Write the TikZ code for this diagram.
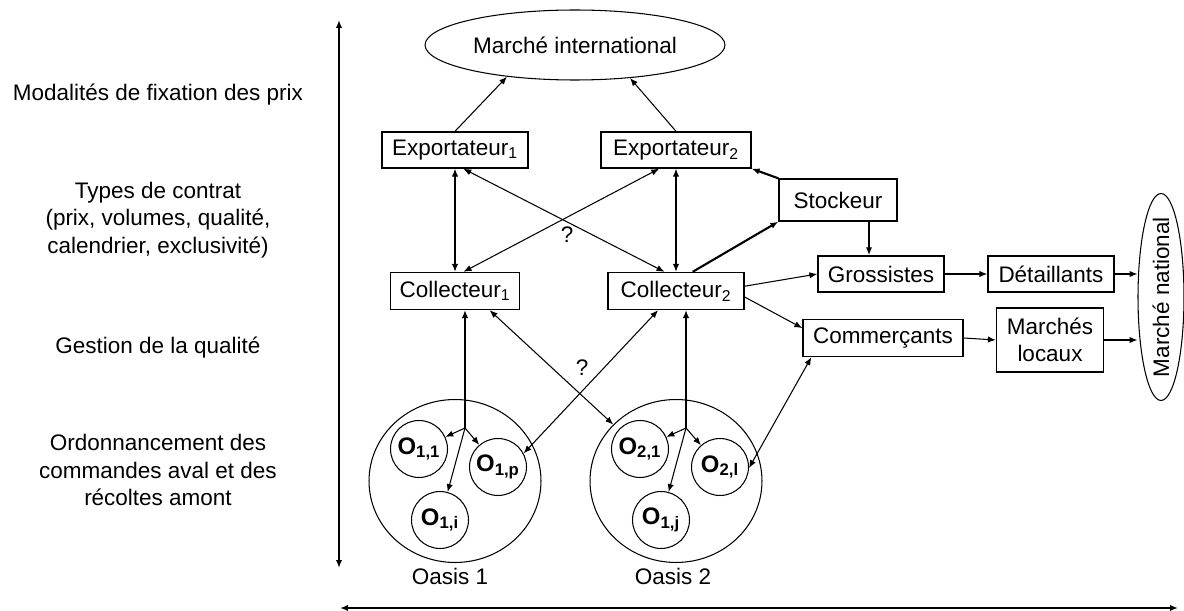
\documentclass[tikz,border=0pt]{standalone}
\usepackage{fontspec}
\setmainfont{Liberation Sans}
\usetikzlibrary{shapes.geometric, arrows.meta}

\tikzset{
  every node/.style={font=\fontsize{12.8}{15.5}\selectfont},
  actor/.style={draw, line width=0.8pt, minimum height=0.72cm, inner sep=2pt},
  market/.style={draw, ellipse, line width=0.6pt, inner sep=0pt},
  oasis/.style={draw, ellipse, line width=0.6pt, minimum width=3.44cm, minimum height=3.26cm},
  farm/.style={draw, circle, line width=0.6pt, minimum size=1.14cm, inner sep=0pt,
    font=\fontsize{13.6}{15}\selectfont\bfseries},
  level/.style={align=center, font=\fontsize{12.8}{15.8}\selectfont},
  flow/.style={->, line width=0.6pt},
  link/.style={<->, line width=0.6pt},
  bigflow/.style={->, line width=1.2pt},
  axis/.style={<->, line width=1.1pt},
}

\begin{document}
\begin{tikzpicture}[x=0.02cm, y=-0.02cm, >={Latex[length=4.5pt,width=3.6pt]}]
    \useasboundingbox (0,0) rectangle (1184,611);
    \node[level] (lvprix) at (158,95) {Modalités de fixation des prix};
    \node[level] (lvcontrat) at (158,220) {Types de contrat\\(prix, volumes, qualité,\\calendrier, exclusivité)};
    \node[level] (lvqual) at (158,348) {Gestion de la qualité};
    \node[level] (lvordo) at (158,470) {Ordonnancement des\\commandes aval et des\\récoltes amont};
    \draw[axis] (339,568) -- (339,20);
    \draw[axis] (340,608) -- (1178,608);

    \node[market, minimum width=6cm, minimum height=1.4cm] (intl) at (575,45) {Marché international};
    \node[actor, minimum width=2.92cm] (exp1) at (455,150) {Exportateur\textsubscript{1}};
    \node[actor, minimum width=3.0cm] (exp2) at (676,150) {Exportateur\textsubscript{2}};
    \node[actor, minimum width=2.36cm, minimum height=0.84cm] (stock) at (838,200) {Stockeur};
    \node[actor, minimum width=2.58cm, minimum height=0.74cm] (col1) at (455,291) {Collecteur\textsubscript{1}};
    \node[actor, minimum width=2.72cm, minimum height=0.74cm] (col2) at (676,291) {Collecteur\textsubscript{2}};
    \node[actor, minimum width=2.52cm] (gross) at (881,274) {Grossistes};
    \node[actor, minimum width=2.52cm] (det) at (1051,274) {Détaillants};
    \node[actor, minimum width=3.2cm, minimum height=0.74cm] (comm) at (883,338) {Commerçants};
    \node[actor, minimum width=2.14cm, minimum height=1.28cm, align=center] (loc) at (1050,340) {Marchés\\locaux};
    \node[market, minimum width=0.92cm, minimum height=4.14cm] (natl) at (1161,297) {};
    \node[rotate=90] (natllbl) at (natl.center) {Marché national};

    \node[oasis] (oasis1) at (455,481) {};
    \node[oasis] (oasis2) at (676,481) {};
    \node (oasis1lbl) at (450,576) {Oasis 1};
    \node (oasis2lbl) at (673,576) {Oasis 2};
    \node[farm] (o11) at (419,449) {O\textsubscript{1,1}};
    \node[farm] (o1p) at (498,467) {O\textsubscript{1,p}};
    \node[farm] (o1i) at (440,520) {O\textsubscript{1,i}};
    \node[farm] (o21) at (640,449) {O\textsubscript{2,1}};
    \node[farm] (o2l) at (720,467) {O\textsubscript{2,l}};
    \node[farm] (o1j) at (661,520) {O\textsubscript{1,j}};
    \coordinate (br1) at (465,428);
    \coordinate (br2) at (686,428);

    \draw[flow] (exp1.north) -- (intl.-155);
    \draw[flow] (exp2.north) -- (intl.-31);
    \draw[link] (exp1.south) -- (col1.north);
    \draw[link] (exp2.south) -- (col2.north);
    \draw[link] (exp1.-66) -- (col2.121);
    \draw[link] (col1.66) -- (exp2.-132);
    \node (q1) at (567,235) {?};
    \draw[link] (col1.-29) -- (oasis2.138);
    \draw[link] (col2.-133) -- (o1p.28);
    \node (q2) at (582,368) {?};
    \draw[link] (comm.-165) -- (o2l.-2);

    \draw[flow] (br1) -- (br1 |- col1.south);
    \draw[flow] (br1) -- (o11);
    \draw[flow] (br1) -- (o1p);
    \draw[flow] (br1) -- (o1i);
    \draw[flow] (br2) -- (br2 |- col2.south);
    \draw[flow] (br2) -- (o21);
    \draw[flow] (br2) -- (o2l);
    \draw[flow] (br2) -- (o1j);

    \draw[bigflow] (col2.49) -- (stock.south west);
    \draw[bigflow] (stock.north west) -- (exp2.south east);
    \draw[bigflow] (stock.-35) -- (stock.-35 |- gross.north);
    \draw[flow] (col2.4) -- (gross.west);
    \draw[flow] (col2.-5) -- (comm.173);
    \draw[flow] (gross.east) -- (det.west);
    \draw[flow] (det.east) -- (det.east -| natl.west);
    \draw[flow] (comm.east) -- (loc.west);
    \draw[flow] (loc.east) -- (loc.east -| natl.west);
  \end{tikzpicture}
\end{document}
